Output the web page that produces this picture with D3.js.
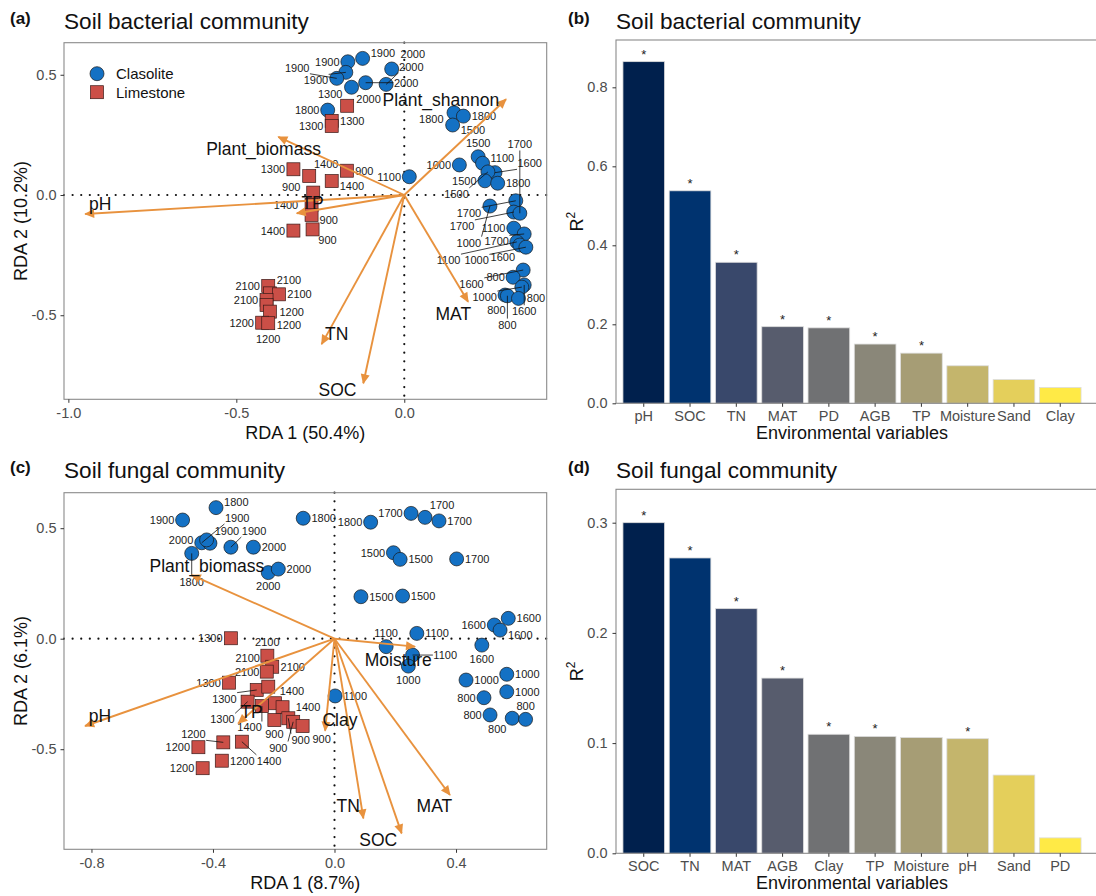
<!DOCTYPE html>
<html>
<head>
<meta charset="utf-8">
<script src="https://cdn.jsdelivr.net/npm/d3@7"></script>
<style>
  body { margin: 0; background: #fff; }
  svg { display: block; }
  text { font-family: "Liberation Sans", Arial, Helvetica, sans-serif; }
</style>
</head>
<body>
<svg id="fig" width="1096" height="896"></svg>
<script>
// ---------------- Panel (a): RDA of soil bacterial community ----------------
const bacClasX = [-0.168,-0.124,-0.174,-0.201,-0.157,-0.115,-0.0375,-0.054,-0.228,0.148,0.176,0.144,0.015,
  0.164,0.220,0.233,0.270,0.249,0.240,0.278,0.255,0.332,0.326,0.344,0.326,0.357,0.335,0.344,0.362,0.354,0.324,0.357,0.350,0.300,0.307,0.340];
const bacClasY = [0.554,0.568,0.510,0.485,0.448,0.467,0.524,0.460,0.353,0.342,0.328,0.291,0.076,
  0.125,0.159,0.132,0.093,0.096,0.059,0.049,-0.046,-0.024,-0.071,-0.076,-0.138,-0.162,-0.195,-0.208,-0.217,-0.312,-0.342,-0.374,-0.383,-0.416,-0.419,-0.430];
const bacClasElev = [1900,1900,1900,1900,2000,2000,2000,2000,1800,1800,1800,1500,1100,
  1000,1500,1100,1600,1500,1500,1800,1000,1700,1700,1700,1100,1700,1100,1600,1000,1600,800,1600,1000,800,800,800];

const bacLimeX = [-0.170,-0.216,-0.216,-0.330,-0.283,-0.216,-0.171,-0.271,-0.276,-0.276,-0.273,-0.330,-0.405,-0.400,-0.373,-0.410,-0.410,-0.400,-0.423,-0.405];
const bacLimeY = [0.371,0.308,0.287,0.107,0.079,0.058,0.101,0.010,-0.042,-0.083,-0.143,-0.148,-0.378,-0.409,-0.413,-0.437,-0.457,-0.485,-0.531,-0.533];
const bacLimeElev = [1300,1300,1300,1300,1400,1400,900,900,1400,900,900,1400,2100,2100,2100,2100,1200,1200,1200,1200];

const bacEnvNames = ["Plant_shannon","Plant_biomass","pH","TP","TN","SOC","MAT"];
const bacEnvX = [0.303,-0.375,-0.950,-0.320,-0.246,-0.122,0.190];
const bacEnvY = [0.398,0.242,-0.079,-0.076,-0.620,-0.783,-0.444];
const bacEnvLabX = [0.109,-0.419,-0.905,-0.273,-0.201,-0.199,0.146];
const bacEnvLabY = [0.395,0.194,-0.037,-0.030,-0.575,-0.811,-0.495];
const bacXLim = [-1.013, 0.424], bacYLim = [-0.8495, 0.6333];
const bacXTicks = [-1.0,-0.5,0.0], bacYTicks = [-0.5,0.0,0.5];

// ---------------- Panel (c): RDA of soil fungal community ----------------
const funClasX = [-0.500,-0.390,-0.103,-0.437,-0.410,-0.421,-0.470,-0.341,-0.267,-0.218,-0.185,
  0.119,0.252,0.298,0.344,0.194,0.216,0.402,0.087,0.224,
  0.526,0.545,0.572,0.485, 0.271,0.170,0.257,0.002, 0.243,0.433,0.567,0.567, 0.492,0.512,0.585,0.629];
const funClasY = [0.537,0.593,0.545,0.434,0.432,0.447,0.386,0.414,0.414,0.299,0.315,
  0.527,0.567,0.549,0.533,0.389,0.359,0.361,0.190,0.193,
  0.062,0.039,0.092,-0.029, 0.024,-0.036,-0.074,-0.259, -0.124,-0.187,-0.161,-0.240, -0.267,-0.345,-0.360,-0.365];
const funClasElev = [1900,1800,1800,1900,1900,2000,1800,1900,2000,2000,2000,
  1800,1700,1700,1700,1500,1500,1700,1500,1500,
  1600,1600,1600,1600, 1100,1100,1100,1100, 1000,1000,1000,1000, 800,800,800,800];

const funLimeX = [-0.341,-0.347,-0.256,-0.286,-0.221,-0.205,-0.223,-0.218,-0.196,-0.171,-0.239,-0.305,-0.198,-0.152,-0.136,-0.105,-0.366,-0.448,-0.371,-0.434];
const funLimeY = [0.002,-0.199,-0.232,-0.285,-0.077,-0.127,-0.149,-0.217,-0.292,-0.310,-0.305,-0.466,-0.368,-0.360,-0.376,-0.395,-0.469,-0.491,-0.552,-0.586];
const funLimeElev = [1300,1300,1300,1300,2100,2100,2100,2100,1400,1400,1400,1400,900,900,900,900,1200,1200,1200,1200];

const funEnvNames = ["Plant_biomass","pH","TP","Clay","TN","SOC","MAT","Moisture"];
const funEnvX = [-0.470,-0.821,-0.317,-0.031,0.095,0.221,0.380,0.265];
const funEnvY = [0.288,-0.395,-0.383,-0.416,-0.813,-0.881,-0.707,-0.036];
const funEnvLabX = [-0.420,-0.772,-0.273,0.018,0.045,0.144,0.329,0.210];
const funEnvLabY = [0.329,-0.350,-0.330,-0.368,-0.757,-0.908,-0.757,-0.093];
const funXLim = [-0.8904, 0.6985], funYLim = [-0.9529, 0.6606];
const funXTicks = [-0.8,-0.4,0.0,0.4], funYTicks = [-0.5,0.0,0.5];

// ---------------- Panels (b) and (d): explained variation ----------------
const bacVars = ["pH","SOC","TN","MAT","PD","AGB","TP","Moisture","Sand","Clay"];
const bacR2   = [0.865,0.538,0.357,0.194,0.191,0.150,0.127,0.095,0.060,0.040];
const bacSig  = [true,true,true,true,true,true,true,false,false,false];
const bacYMax = 0.9198, bacYTicks2 = [0.0,0.2,0.4,0.6,0.8];

const funVars = ["SOC","TN","MAT","AGB","Clay","TP","Moisture","pH","Sand","PD"];
const funR2   = [0.300,0.268,0.222,0.159,0.108,0.106,0.105,0.104,0.071,0.014];
const funSig  = [true,true,true,true,true,true,false,true,false,false];
const funYMax = 0.3303, funYTicks2 = [0.0,0.1,0.2,0.3];

const rankPalette = ["#00204D","#00336F","#39486B","#575C6D","#707173","#8A8779","#A69D75","#C4B56C","#E4CF5B","#FFEA46"];

// ---------------- drawing ----------------
const COL = { clas: "#1471C4", lime: "#CB4F47", arrow: "#E8923E", frame: "#8a8a8a", tick: "#4D4D4D" };
const svg = d3.select("#fig");
const fmt1 = d => d.toFixed(1);

const defs = svg.append("defs");
defs.append("marker").attr("id", "head")
  .attr("viewBox", "0 0 10 10").attr("refX", 9).attr("refY", 5)
  .attr("markerWidth", 11).attr("markerHeight", 10)
  .attr("markerUnits", "userSpaceOnUse").attr("orient", "auto")
  .append("path").attr("d", "M0,0.5 L10,5 L0,9.5 Z").attr("fill", COL.arrow);

function styleAxis(sel, size) {
  sel.select(".domain").remove();
  sel.selectAll(".tick line").attr("stroke", "#333").attr("stroke-width", 1);
  sel.selectAll(".tick text").attr("fill", COL.tick).attr("font-size", size);
}

function panelHeader(letter, title, lx, tx, baseline) {
  svg.append("text").attr("x", lx).attr("y", baseline - 5).attr("font-size", 17)
    .attr("font-weight", "bold").attr("fill", "#111").text(letter);
  svg.append("text").attr("x", tx).attr("y", baseline).attr("font-size", 22.6)
    .attr("fill", "#111").text(title);
}

// Greedy label placement: each elevation label takes the nearest free slot
// around its marker, clear of other labels, of the vector names and of markers.
function placeLabels(items, fixed, markers, box) {
  const placed = fixed.slice();
  const R = 6.8;
  const hitsRect = (x, y, w, h) => placed.some(p =>
    Math.abs(p.x - x) < (p.w + w) / 2 + 0.5 && Math.abs(p.y - y) < (p.h + h) / 2 + 0.5);
  const hitsMarker = (x, y, w, h) => markers.some(m => {
    const cx = Math.max(x - w / 2, Math.min(m.x, x + w / 2));
    const cy = Math.max(y - h / 2, Math.min(m.y, y + h / 2));
    return Math.hypot(cx - m.x, cy - m.y) < R;
  });
  const dirs = [0, 180, -35, -145, 35, 145, -90, 90, -15, -165, 15, 165, -60, -120, 60, 120]
    .map(a => a * Math.PI / 180);
  // most crowded markers choose first
  const crowd = items.map(it => markers.filter(m => Math.hypot(m.x - it.ax, m.y - it.ay) < 28).length);
  const order = items.map((d, i) => i).sort((i, j) => crowd[j] - crowd[i] || i - j);
  for (const i of order) {
    const it = items[i];
    let done = false;
    for (let k = 0; k < 60 && !done; k++) {
      for (const a of dirs) {
        const c = Math.cos(a), s = Math.sin(a);
        const d0 = R + 1 + Math.min(Math.abs(c) > 1e-6 ? (it.w / 2) / Math.abs(c) : 1e9,
                                    Math.abs(s) > 1e-6 ? (it.h / 2) / Math.abs(s) : 1e9);
        const x = it.ax + c * (d0 + k * 2.5), y = it.ay + s * (d0 + k * 2.5);
        if (x - it.w / 2 < box.l + 1 || x + it.w / 2 > box.r - 1 || y - it.h / 2 < box.t + 1 || y + it.h / 2 > box.b - 1) continue;
        if (hitsRect(x, y, it.w, it.h) || hitsMarker(x, y, it.w, it.h)) continue;
        it.x = x; it.y = y; done = true; break;
      }
    }
    if (!done) { it.x = it.ax + R + it.w / 2; it.y = it.ay; }
    placed.push(it);
  }
}

function ordination(o) {
  const { box, xLim, yLim, xTicks, yTicks } = o;
  const g = svg.append("g");
  const x = d3.scaleLinear().domain(xLim).range([box.l, box.r]);
  const y = d3.scaleLinear().domain(yLim).range([box.b, box.t]);

  // zero reference lines
  g.append("line").attr("x1", box.l).attr("x2", box.r).attr("y1", y(0)).attr("y2", y(0))
    .attr("stroke", "#111").attr("stroke-width", 2.2).attr("stroke-linecap", "round").attr("stroke-dasharray", "0.01 8.6");
  g.append("line").attr("x1", x(0)).attr("x2", x(0)).attr("y1", box.t).attr("y2", box.b)
    .attr("stroke", "#111").attr("stroke-width", 2.2).attr("stroke-linecap", "round").attr("stroke-dasharray", "0.01 8.6");

  // site scores
  const sites = [];
  o.clasX.forEach((v, i) => sites.push({ px: x(v), py: y(o.clasY[i]), elev: o.clasElev[i], rock: "Clasolite" }));
  o.limeX.forEach((v, i) => sites.push({ px: x(v), py: y(o.limeY[i]), elev: o.limeElev[i], rock: "Limestone" }));

  g.selectAll("circle.site").data(sites.filter(d => d.rock === "Clasolite")).join("circle")
    .attr("class", "site").attr("cx", d => d.px).attr("cy", d => d.py).attr("r", 7)
    .attr("fill", COL.clas).attr("stroke", "#1a1a1a").attr("stroke-width", 0.7);
  g.selectAll("rect.site").data(sites.filter(d => d.rock === "Limestone")).join("rect")
    .attr("class", "site").attr("x", d => d.px - 6.5).attr("y", d => d.py - 6.5)
    .attr("width", 13).attr("height", 13)
    .attr("fill", COL.lime).attr("stroke", "#3a1a18").attr("stroke-width", 0.7);

  const segG = g.append("g");
  const labG = g.append("g");

  // environmental vectors
  const ox = x(0), oy = y(0);
  const arrG = g.append("g");
  o.envNames.forEach((n, i) => {
    arrG.append("line").attr("x1", ox).attr("y1", oy).attr("x2", x(o.envX[i])).attr("y2", y(o.envY[i]))
      .attr("stroke", COL.arrow).attr("stroke-width", 1.9).attr("marker-end", "url(#head)");
  });
  const envText = arrG.selectAll("text").data(o.envNames).join("text")
    .attr("x", (n, i) => x(o.envLabX[i])).attr("y", (n, i) => y(o.envLabY[i])).attr("dy", "0.36em")
    .attr("text-anchor", "middle").attr("font-size", 17.5).attr("fill", "#111").text(n => n);
  const fixed = [];
  envText.each(function (n, i) {
    fixed.push({ x: x(o.envLabX[i]), y: y(o.envLabY[i]), w: this.getComputedTextLength() + 1, h: 17 });
  });

  // elevation labels
  const texts = labG.selectAll("text").data(sites).join("text")
    .attr("font-size", 11).attr("fill", "#1a1a1a").attr("text-anchor", "middle").attr("dy", "0.36em")
    .text(d => d.elev);
  const items = [];
  texts.each(function (d) {
    items.push({ w: this.getComputedTextLength() + 1, h: 12, ax: d.px, ay: d.py, x: d.px, y: d.py });
  });
  placeLabels(items, fixed, sites.map(d => ({ x: d.px, y: d.py })), box);
  texts.attr("x", (d, i) => items[i].x).attr("y", (d, i) => items[i].y);
  items.forEach(it => {
    const cx = Math.max(it.x - it.w / 2, Math.min(it.ax, it.x + it.w / 2));
    const cy = Math.max(it.y - it.h / 2, Math.min(it.ay, it.y + it.h / 2));
    if (Math.hypot(cx - it.ax, cy - it.ay) > 13) {
      segG.append("line").attr("x1", it.ax).attr("y1", it.ay).attr("x2", cx).attr("y2", cy)
        .attr("stroke", "#111").attr("stroke-width", 0.8);
    }
  });

  // frame and axes
  g.append("rect").attr("x", box.l).attr("y", box.t).attr("width", box.r - box.l).attr("height", box.b - box.t)
    .attr("fill", "none").attr("stroke", COL.frame).attr("stroke-width", 1.1);
  g.append("g").attr("transform", `translate(0,${box.b})`)
    .call(d3.axisBottom(x).tickValues(xTicks).tickFormat(fmt1).tickSize(3.5).tickPadding(4.5))
    .call(s => styleAxis(s, 14.5));
  g.append("g").attr("transform", `translate(${box.l},0)`)
    .call(d3.axisLeft(y).tickValues(yTicks).tickFormat(fmt1).tickSize(3.5).tickPadding(4))
    .call(s => styleAxis(s, 14.5));

  g.append("text").attr("x", (box.l + box.r) / 2).attr("y", box.b + 40).attr("text-anchor", "middle")
    .attr("font-size", 18).attr("fill", "#111").text(o.xTitle);
  g.append("text").attr("transform", `translate(27,${(box.t + box.b) / 2}) rotate(-90)`)
    .attr("text-anchor", "middle").attr("font-size", 18).attr("fill", "#111").text(o.yTitle);

  if (o.legend) {
    const lg = g.append("g");
    lg.append("circle").attr("cx", box.l + 33).attr("cy", box.t + 31).attr("r", 7)
      .attr("fill", COL.clas).attr("stroke", "#1a1a1a").attr("stroke-width", 0.7);
    lg.append("rect").attr("x", box.l + 26.5).attr("y", box.t + 43).attr("width", 13).attr("height", 13)
      .attr("fill", COL.lime).attr("stroke", "#3a1a18").attr("stroke-width", 0.7);
    lg.append("text").attr("x", box.l + 52).attr("y", box.t + 31).attr("dy", "0.36em")
      .attr("font-size", 15).attr("fill", "#111").text("Clasolite");
    lg.append("text").attr("x", box.l + 52).attr("y", box.t + 49.5).attr("dy", "0.36em")
      .attr("font-size", 15).attr("fill", "#111").text("Limestone");
  }
}

function barPanel(o) {
  const { box, vars, vals, sig, yMax, yTicks } = o;
  const g = svg.append("g");
  const x = d3.scaleBand().domain(vars).range([box.l, box.r]).paddingInner(0.1).paddingOuter(0.15);
  const y = d3.scaleLinear().domain([0, yMax]).range([box.b, box.t]);

  g.selectAll("rect.bar").data(vars).join("rect").attr("class", "bar")
    .attr("x", d => x(d)).attr("width", x.bandwidth())
    .attr("y", (d, i) => y(vals[i])).attr("height", (d, i) => y(0) - y(vals[i]))
    .attr("fill", (d, i) => rankPalette[i]).attr("stroke", "#dcdcdc").attr("stroke-width", 0.8);

  g.selectAll("text.star").data(vars.filter((d, i) => sig[i])).join("text").attr("class", "star")
    .attr("x", d => x(d) + x.bandwidth() / 2).attr("y", d => y(vals[vars.indexOf(d)]) - 3)
    .attr("text-anchor", "middle").attr("font-size", 13).attr("fill", "#222").text("*");

  g.append("rect").attr("x", box.l).attr("y", box.t).attr("width", 1200 - box.l).attr("height", box.b - box.t)
    .attr("fill", "none").attr("stroke", COL.frame).attr("stroke-width", 1.1);
  g.append("g").attr("transform", `translate(0,${box.b})`)
    .call(d3.axisBottom(x).tickSize(3.5).tickPadding(3.8))
    .call(s => styleAxis(s, 14.5));
  g.append("g").attr("transform", `translate(${box.l},0)`)
    .call(d3.axisLeft(y).tickValues(yTicks).tickFormat(fmt1).tickSize(3.5).tickPadding(5))
    .call(s => styleAxis(s, 14.5));

  g.append("text").attr("x", (box.l + box.r) / 2).attr("y", box.b + 36).attr("text-anchor", "middle")
    .attr("font-size", 18).attr("fill", "#111").text("Environmental variables");
  const yt = g.append("text").attr("transform", `translate(583,${(box.t + box.b) / 2}) rotate(-90)`)
    .attr("text-anchor", "middle").attr("font-size", 18).attr("fill", "#111");
  yt.append("tspan").text("R");
  yt.append("tspan").attr("font-size", 12).attr("dy", -8).text("2");
}

panelHeader("(a)", "Soil bacterial community", 10, 64, 29);
ordination({
  box: { l: 64, r: 546.7, t: 42.7, b: 399.3 }, xLim: bacXLim, yLim: bacYLim, xTicks: bacXTicks, yTicks: bacYTicks,
  clasX: bacClasX, clasY: bacClasY, clasElev: bacClasElev, limeX: bacLimeX, limeY: bacLimeY, limeElev: bacLimeElev,
  envNames: bacEnvNames, envX: bacEnvX, envY: bacEnvY, envLabX: bacEnvLabX, envLabY: bacEnvLabY,
  xTitle: "RDA 1 (50.4%)", yTitle: "RDA 2 (10.2%)", legend: true
});

panelHeader("(b)", "Soil bacterial community", 568, 616, 29);
barPanel({ box: { l: 616, r: 1088, t: 40, b: 403.3 }, vars: bacVars, vals: bacR2, sig: bacSig, yMax: bacYMax, yTicks: bacYTicks2 });

panelHeader("(c)", "Soil fungal community", 10, 64, 478);
ordination({
  box: { l: 64, r: 546.7, t: 492.7, b: 849.3 }, xLim: funXLim, yLim: funYLim, xTicks: funXTicks, yTicks: funYTicks,
  clasX: funClasX, clasY: funClasY, clasElev: funClasElev, limeX: funLimeX, limeY: funLimeY, limeElev: funLimeElev,
  envNames: funEnvNames, envX: funEnvX, envY: funEnvY, envLabX: funEnvLabX, envLabY: funEnvLabY,
  xTitle: "RDA 1 (8.7%)", yTitle: "RDA 2 (6.1%)", legend: false
});

panelHeader("(d)", "Soil fungal community", 568, 616, 478.3);
barPanel({ box: { l: 616, r: 1088, t: 489.3, b: 853.3 }, vars: funVars, vals: funR2, sig: funSig, yMax: funYMax, yTicks: funYTicks2 });
</script>
</body>
</html>
